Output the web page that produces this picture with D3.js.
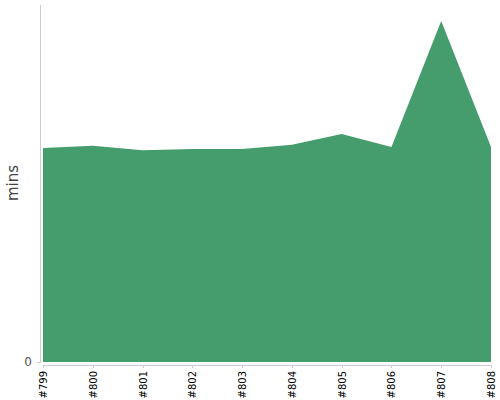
<!DOCTYPE html>
<html>
<head>
<meta charset="utf-8">
<script src="https://cdn.jsdelivr.net/npm/d3@7"></script>
<style>
  body { margin: 0; background: #fff; }
  svg { font-family: "DejaVu Sans", Verdana, sans-serif; }
  .axis path, .axis line { stroke: #ccc; fill: none; shape-rendering: crispEdges; }
</style>
</head>
<body>
<svg id="chart" width="500" height="400"></svg>
<script>
// --- données ---
const builds = ["#799", "#800", "#801", "#802", "#803", "#804", "#805", "#806", "#807", "#808"];
const durations = [23.85, 24.1, 23.6, 23.75, 23.75, 24.2, 25.4, 23.95, 38.0, 23.95];
const yTicks = [0];

const svg = d3.select("#chart");
const plotLeft = 43, plotRight = 491, plotTop = 4, plotBottom = 362;

const x = d3.scalePoint().domain(builds).range([plotLeft, plotRight]);
const y = d3.scaleLinear().domain([0, d3.max(durations) * 1.05]).range([plotBottom, plotTop]);

const data = builds.map((b, i) => ({ build: b, value: durations[i] }));

// zone
svg.append("path")
    .datum(data)
    .attr("fill", "#459c6c")
    .attr("d", d3.area()
        .x(d => x(d.build))
        .y0(y(0))
        .y1(d => y(d.value)));

// axe Y
const yAxis = svg.append("g")
    .attr("class", "axis")
    .attr("transform", `translate(${plotLeft - 3},0)`)
    .call(d3.axisLeft(y).tickValues(yTicks).tickSize(3).tickPadding(5).tickSizeOuter(0))
    .attr("font-family", null);
yAxis.selectAll("text").attr("fill", "#555").style("font-size", "12px");

// axe X
const xAxis = svg.append("g")
    .attr("class", "axis")
    .attr("transform", `translate(0,${plotBottom + 3})`)
    .call(d3.axisBottom(x).tickSize(3).tickSizeOuter(0))
    .attr("font-family", null);
xAxis.selectAll("text")
    .attr("fill", "#000")
    .style("font-size", "10px")
    .attr("transform", "rotate(-90)")
    .attr("x", -6)
    .attr("y", 0)
    .attr("dy", "0.35em")
    .style("text-anchor", "end");

// libellé Y
svg.append("text")
    .attr("transform", "rotate(-90)")
    .attr("x", -183)
    .attr("y", 18)
    .attr("text-anchor", "middle")
    .attr("fill", "#444")
    .style("font-size", "15px")
    .text("mins");
</script>
</body>
</html>
